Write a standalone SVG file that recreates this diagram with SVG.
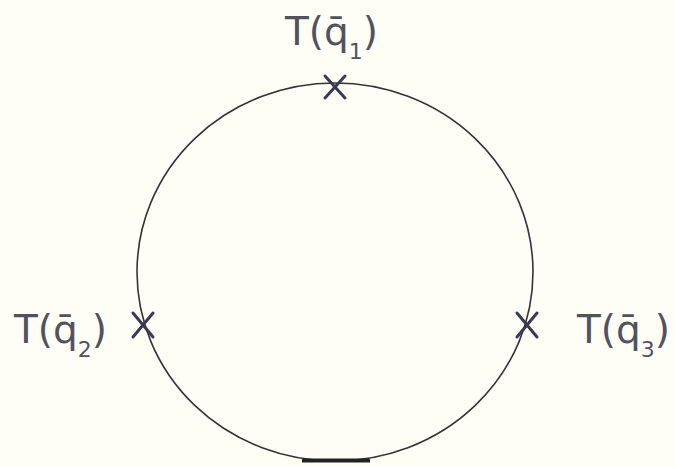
<svg xmlns="http://www.w3.org/2000/svg" width="675" height="467" viewBox="0 0 675 467">
<style>
.lbl{font-family:"DejaVu Sans","Liberation Sans",sans-serif;font-size:39px;fill:#52525e}
.sub{font-size:22px}
.x{stroke:#3a3a50;stroke-width:3;stroke-linecap:round;fill:none}
.ring{stroke:#333;stroke-width:1.6;fill:none}
</style>
<rect width="675" height="467" fill="#fffef6"/>
<g id="connectors">
<ellipse class="ring" cx="335" cy="272" rx="198" ry="189"/>
<line x1="302" y1="460.5" x2="370" y2="460.5" stroke="#222" stroke-width="4"/>
</g>
<g id="node1">
<path class="x" d="M325 76 L345 98 M345 76 L325 98"/>
<text class="lbl" x="285" y="45">T(q̄<tspan class="sub" dy="14">1</tspan><tspan dy="-14">)</tspan></text>
</g>
<g id="node2">
<path class="x" d="M133 313 L153 337 M153 313 L133 337"/>
<text class="lbl" x="14" y="343">T(q̄<tspan class="sub" dy="14">2</tspan><tspan dy="-14">)</tspan></text>
</g>
<g id="node3">
<path class="x" d="M517 313 L537 337 M537 313 L517 337"/>
<text class="lbl" x="577" y="343">T(q̄<tspan class="sub" dy="14">3</tspan><tspan dy="-14">)</tspan></text>
</g>
</svg>
